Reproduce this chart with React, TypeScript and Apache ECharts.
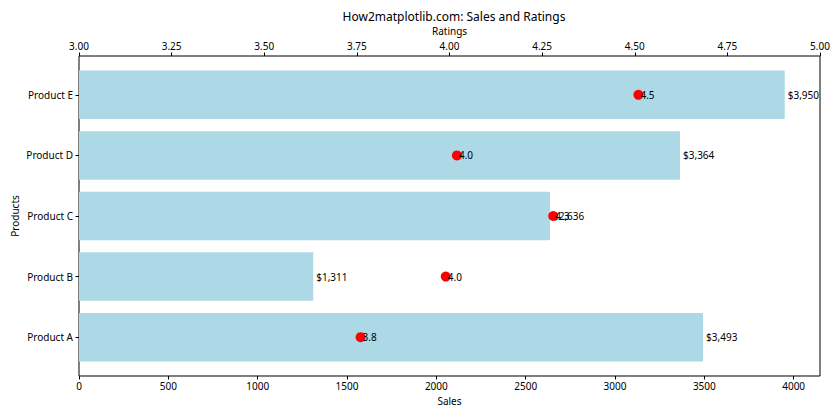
import React, { useEffect, useRef } from "react";
import * as echarts from "echarts";

const categories = ["Product A", "Product B", "Product C", "Product D", "Product E"];
const sales = [3493, 1311, 2636, 3364, 3950];
const ratings = [3.76, 3.99, 4.28, 4.02, 4.51];
const salesTicks = [0, 500, 1000, 1500, 2000, 2500, 3000, 3500, 4000];
const ratingTicks = [3.0, 3.25, 3.5, 3.75, 4.0, 4.25, 4.5, 4.75, 5.0];

const FONT = "Noto Sans";

export default function App() {
  const ref = useRef<HTMLDivElement>(null);
  useEffect(() => {
    if (!ref.current) return;
    const chart = echarts.init(ref.current, null, { renderer: "svg" });
    const salesMax = Math.max(...sales) * 1.05;
    const txt = { color: "#000", fontFamily: FONT, fontSize: 10 };
    chart.setOption({
      animation: false,
      textStyle: { fontFamily: FONT },
      title: {
        text: "How2matplotlib.com: Sales and Ratings",
        left: 449,
        top: 5,
        textAlign: "center",
        textStyle: { color: "#000", fontFamily: FONT, fontSize: 12, fontWeight: "normal" },
      },
      graphic: [
        {
          type: "text", x: 15, y: 216, rotation: Math.PI / 2,
          style: { text: "Products", fill: "#000", font: `10px "${FONT}"`, align: "center", verticalAlign: "middle" },
        },
      ],
      grid: [
        { left: 79, right: 20, top: 56, bottom: 44, show: true, borderColor: "#000", borderWidth: 1, backgroundColor: "transparent", containLabel: false, outerBoundsMode: "none" },
        { left: 79, right: 20, top: 64.5, bottom: 52.5, containLabel: false, outerBoundsMode: "none" },
      ],
      xAxis: [
        {
          gridIndex: 0, type: "value", position: "bottom", min: 0, max: salesMax, interval: 500,
          name: "Sales", nameLocation: "middle", nameGap: 20, nameTextStyle: txt,
          axisLine: { show: false }, splitLine: { show: false },
          axisTick: { show: true, length: 3.5, lineStyle: { color: "#000" } },
          axisLabel: { ...txt, margin: 5, showMaxLabel: false, formatter: (v: number) => (salesTicks.includes(v) ? String(v) : "") },
        },
        {
          gridIndex: 0, type: "value", position: "top", min: 3, max: 5, interval: 0.25,
          name: "Ratings", nameLocation: "middle", nameGap: 20, nameTextStyle: txt,
          axisLine: { show: false }, splitLine: { show: false },
          axisTick: { show: true, length: 3.5, lineStyle: { color: "#000" } },
          axisLabel: { ...txt, margin: 5, formatter: (v: number) => (ratingTicks.includes(v) ? v.toFixed(2) : "") },
        },
        { gridIndex: 1, type: "value", min: 0, max: salesMax, show: false },
        { gridIndex: 1, type: "value", min: 3, max: 5, show: false },
      ],
      yAxis: [
        { gridIndex: 0, type: "value", show: false, min: 0, max: 1 },
        {
          gridIndex: 1, type: "category", data: categories,
          axisLine: { show: false, onZero: false },
          axisTick: { show: true, alignWithLabel: true, length: 3.5, lineStyle: { color: "#000" } },
          axisLabel: { ...txt, margin: 6 },
        },
      ],
      series: [
        {
          type: "bar", xAxisIndex: 2, yAxisIndex: 1, data: sales, barWidth: "80%",
          itemStyle: { color: "#add8e6" },
          label: {
            show: true, position: "right", distance: 3, ...txt,
            formatter: (p: any) => "$" + Number(p.value).toLocaleString("en-US"),
          },
        },
        {
          type: "scatter", xAxisIndex: 3, yAxisIndex: 1, z: 5,
          data: ratings.map((r, i) => [r, categories[i]]),
          symbolSize: 10, itemStyle: { color: "#ff0000", opacity: 1 },
          label: {
            show: true, position: "right", distance: -3, ...txt,
            formatter: (p: any) => Number(p.value[0]).toFixed(1),
          },
        },
      ],
    });
    return () => chart.dispose();
  }, []);
  return <div ref={ref} style={{ width: 840, height: 420, margin: -8 }} />;
}
